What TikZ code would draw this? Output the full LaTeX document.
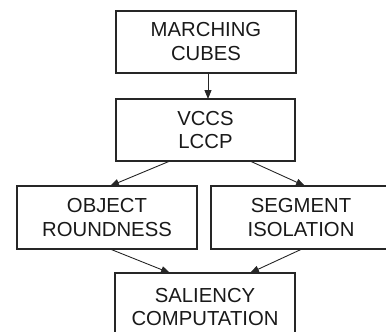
\documentclass[tikz,border=0pt]{standalone}
\usepackage{fontspec}
\setmainfont{Liberation Sans}
\usetikzlibrary{arrows.meta}
\begin{document}
\begin{tikzpicture}[x=1pt,y=-1pt,
  box/.style={draw=black!85,line width=1.3pt,inner sep=0pt},
  lbl/.style={align=center,font=\fontsize{20.3}{23.5}\selectfont,text=black!90},
  arr/.style={draw=black!85,line width=0.9pt,-{Triangle[length=9pt,width=7pt]}}]
\useasboundingbox (0,0) rectangle (386,332);
\clip (0,0) rectangle (386,332);
\node[box,minimum width=180pt,minimum height=62pt] (mc) at (206,42) {};
\node[lbl] at (206,41.5) {MARCHING\\CUBES};
\node[box,minimum width=179pt,minimum height=62pt] (vl) at (205.5,130) {};
\node[lbl] at (205.5,130) {VCCS\\LCCP};
\node[box,minimum width=180pt,minimum height=63pt] (or) at (107,217.5) {};
\node[lbl] at (107,217.5) {OBJECT\\ROUNDNESS};
\node[box,minimum width=180pt,minimum height=63pt] (si) at (301,217.5) {};
\node[lbl] at (301,217.5) {SEGMENT\\ISOLATION};
\node[box,minimum width=180pt,minimum height=68pt] (sc) at (205,307) {};
\node[lbl] at (205,307) {SALIENCY\\COMPUTATION};
\coordinate (a1) at (208,73);
\coordinate (a2) at (208,99);
\draw[arr] (a1) -- (a2);
\coordinate (b1) at (170,161);
\coordinate (b2) at (110,186);
\draw[arr] (b1) -- (b2);
\coordinate (c1) at (250,161);
\coordinate (c2) at (305,186);
\draw[arr] (c1) -- (c2);
\coordinate (d1) at (110,249);
\coordinate (d2) at (170,273);
\draw[arr] (d1) -- (d2);
\coordinate (e1) at (302,249);
\coordinate (e2) at (250,273);
\draw[arr] (e1) -- (e2);
\end{tikzpicture}
\end{document}
